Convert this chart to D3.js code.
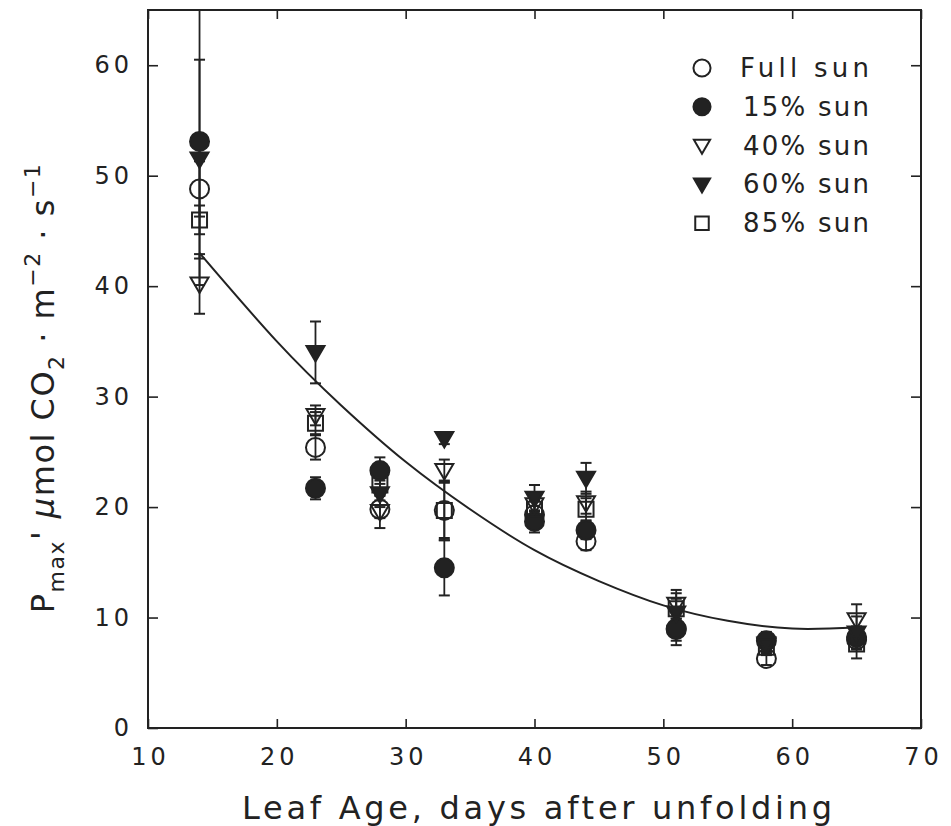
<!DOCTYPE html>
<html><head><meta charset="utf-8">
<script src="https://cdn.jsdelivr.net/npm/d3@7"></script>
<style>body{margin:0;background:#fff}svg{display:block}text{font-family:"DejaVu Sans",sans-serif;fill:#222}</style>
</head><body>
<svg id="c" width="951" height="826"></svg>
<script>
const days = [14,23,28,33,40,44,51,58,65];
const fullSun = [48.8,25.4,19.8,19.7,19.3,16.9,8.9,6.3,8.0];
const fullSunErr = [2.5,1.1,0.8,2.5,0.8,0.8,1.0,0.6,0.8];
const sun15 = [53.1,21.7,23.3,14.5,18.7,17.9,9.0,7.9,8.2];
const sun15Err = [13,1.0,1.2,2.5,1.0,0.8,1.5,0.8,1.0];
const sun40 = [40.2,28.3,19.6,23.3,20.2,20.4,11.2,7.5,9.8];
const sun40Err = [2.7,0.9,1.5,1.0,1.0,1.0,1.3,0.8,1.4];
const sun60 = [51.5,34.0,21.2,26.2,20.8,22.6,10.4,7.6,8.6];
const sun60Err = [9,2.8,1.2,0.5,1.2,1.4,1.3,0.8,1.5];
const sun85 = [46.0,27.6,22.0,19.7,19.8,19.8,10.8,7.3,7.6];
const sun85Err = [1.3,1.0,1.0,2.7,0.8,1.0,1.4,0.7,1.3];
const fitAge = [14,20,25,30,35,40,45,50,55,60,65];
const fitP = [43.0,35.0,29.2,24.1,19.8,16.1,13.3,11.1,9.7,9.0,9.1];
const seriesNames = ["Full sun","15% sun","40% sun","60% sun","85% sun"];
const seriesShapes = ["circle","circle","tri","tri","square"];
const seriesFilled = [false,true,false,true,false];
const xTicks = [10,20,30,40,50,60,70];
const yTicks = [0,10,20,30,40,50,60];

const values = [fullSun,sun15,sun40,sun60,sun85];
const errs = [fullSunErr,sun15Err,sun40Err,sun60Err,sun85Err];
const ink = "#222";
const L=148,R=921,T=10,B=728;
const svg = d3.select("#c");
const x = d3.scaleLinear().domain([10,70]).range([L,R]);
const y = d3.scaleLinear().domain([0,65]).range([B,T]);

svg.append("defs").append("clipPath").attr("id","pc").append("rect")
  .attr("x",L).attr("y",T).attr("width",R-L).attr("height",B-T);

const axB = svg.append("g").attr("transform",`translate(0,${B})`)
  .call(d3.axisBottom(x).tickValues(xTicks).tickSizeInner(-9).tickSizeOuter(0).tickPadding(20));
const axT = svg.append("g").attr("transform",`translate(0,${T})`)
  .call(d3.axisTop(x).tickValues(xTicks).tickSizeInner(-9).tickSizeOuter(0).tickFormat(""));
const axLf = svg.append("g").attr("transform",`translate(${L},0)`)
  .call(d3.axisLeft(y).tickValues(yTicks).tickSizeInner(-10).tickSizeOuter(0).tickPadding(15));
const axRt = svg.append("g").attr("transform",`translate(${R},0)`)
  .call(d3.axisRight(y).tickValues(yTicks).tickSizeInner(-10).tickSizeOuter(0).tickFormat(""));
[axB,axT,axLf,axRt].forEach(g=>{
  g.select(".domain").remove();
  g.selectAll(".tick line").attr("stroke",ink).attr("stroke-width",1.6);
  g.selectAll(".tick text").attr("font-size",24).attr("letter-spacing",4).attr("fill",ink)
   .style("font-family","'DejaVu Sans',sans-serif");
});
axB.selectAll(".tick text").attr("dx",2);
svg.append("rect").attr("x",L).attr("y",T).attr("width",R-L).attr("height",B-T)
  .attr("fill","none").attr("stroke",ink).attr("stroke-width",2);

const line = d3.line().x((d,i)=>x(fitAge[i])).y(d=>y(d)).curve(d3.curveNatural);
svg.append("path").datum(fitP).attr("d",line).attr("fill","none").attr("stroke",ink).attr("stroke-width",2);

function shapePath(shape,k){
  if(shape==="circle") return d3.symbol(d3.symbolCircle, Math.PI*(9.5*k)*(9.5*k))();
  if(shape==="square"){const h=7.5*k;return `M${-h},${-h}H${h}V${h}H${-h}Z`;}
  return `M${-9*k},${-6.5*k}L${9*k},${-6.5*k}L0,${9*k}Z`;
}

const eg = svg.append("g").attr("clip-path","url(#pc)");
values.forEach((vals,s)=>{
  vals.forEach((v,i)=>{
    const cx = x(days[i]), e = errs[s][i];
    eg.append("line").attr("x1",cx).attr("x2",cx).attr("y1",y(v-e)).attr("y2",y(v+e))
      .attr("stroke",ink).attr("stroke-width",1.8);
    [v-e,v+e].forEach(t=>eg.append("line").attr("x1",cx-5.5).attr("x2",cx+5.5)
      .attr("y1",y(t)).attr("y2",y(t)).attr("stroke",ink).attr("stroke-width",2));
  });
});
values.forEach((vals,s)=>{
  svg.append("g").selectAll("path").data(vals).join("path")
    .attr("transform",(d,i)=>`translate(${x(days[i])},${y(d)})`)
    .attr("d",shapePath(seriesShapes[s],1))
    .attr("fill",seriesFilled[s]?ink:"none")
    .attr("stroke",ink).attr("stroke-width",2);
});

const lg = svg.append("g");
seriesNames.forEach((n,i)=>{
  const yy = 68 + i*38.8;
  lg.append("path").attr("transform",`translate(702,${yy})`)
    .attr("d",shapePath(seriesShapes[i],0.9))
    .attr("fill",seriesFilled[i]?ink:"none").attr("stroke",ink).attr("stroke-width",2);
  lg.append("text").attr("x",i===0?740:743).attr("y",yy+9).attr("font-size",26)
    .attr("textLength",i===0?129:126).attr("lengthAdjust","spacing").text(n);
});

svg.append("text").attr("x",242).attr("y",819)
  .attr("font-size",32).attr("textLength",590).attr("lengthAdjust","spacing")
  .text("Leaf Age, days after unfolding");
const yt = svg.append("text").attr("transform","translate(54,388) rotate(-90)")
  .attr("text-anchor","middle").attr("font-size",32).attr("letter-spacing",1.5);
yt.append("tspan").text("P");
yt.append("tspan").attr("font-size",22).attr("dy",10).text("max");
yt.append("tspan").attr("dy",-10).text("' ");
yt.append("tspan").attr("font-style","italic").text("μ");
yt.append("tspan").text("mol CO");
yt.append("tspan").attr("font-size",22).attr("dy",10).text("2");
yt.append("tspan").attr("dy",-10).text(" · m");
yt.append("tspan").attr("font-size",22).attr("dy",-14).text("−2");
yt.append("tspan").attr("dy",14).text(" · s");
yt.append("tspan").attr("font-size",22).attr("dy",-14).text("−1");
</script>
</body></html>
